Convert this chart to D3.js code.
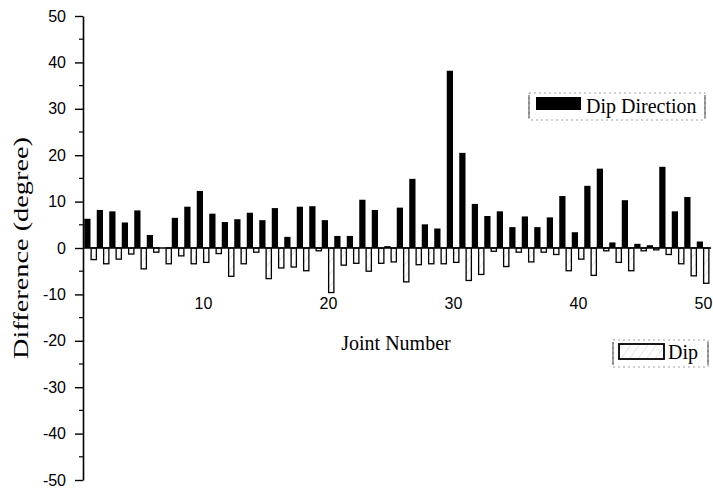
<!DOCTYPE html>
<html>
  <head>
    <meta charset="utf-8">
    <title>Joint difference</title>
    <script src="https://cdn.jsdelivr.net/npm/d3@7"></script>
    <style>
      body { margin: 0; background: #ffffff; }
      .tick text { font-family: "Liberation Sans", Arial, sans-serif; font-size: 16px; fill: #000; }
      .ttl { font-family: "Liberation Serif", "Times New Roman", serif; font-size: 20px; fill: #000; }
    </style>
  </head>
  <body>
    <svg width="713" height="489" id="mainsvg"></svg>
    <script>
        // values, joint 1..50
        const joints = d3.range(1, 51);
        const dipDirection = [6.3, 8.2, 7.9, 5.5, 8.1, 2.8, 0, 6.5, 8.9, 12.3,
            7.4, 5.6, 6.2, 7.6, 6.0, 8.6, 2.4, 8.9, 9.0, 6.0,
            2.6, 2.6, 10.4, 8.2, 0.4, 8.7, 14.9, 5.1, 4.2, 38.2,
            20.5, 9.5, 6.9, 7.9, 4.5, 6.8, 4.5, 6.6, 11.2, 3.4,
            13.4, 17.1, 1.2, 10.3, 0.9, 0.6, 17.5, 7.9, 11.0, 1.4];
        const dip = [-2.5, -3.4, -2.4, -1.3, -4.5, -0.9, -3.4, -1.7, -3.4, -3.1,
            -1.2, -6.1, -3.4, -0.9, -6.6, -4.3, -4.1, -4.9, -0.6, -9.6,
            -3.7, -3.3, -5.0, -3.3, -3.0, -7.3, -3.6, -3.4, -3.4, -3.1,
            -7.0, -5.7, -0.7, -4.0, -0.9, -3.0, -0.9, -1.4, -4.9, -2.4,
            -5.9, -0.6, -3.1, -4.9, -0.6, -0.4, -1.4, -3.4, -6.0, -7.6];
        const xTicks = [10, 20, 30, 40, 50];
        const yTicks = [-50, -40, -30, -20, -10, 0, 10, 20, 30, 40, 50];
        const yMinor = [-45, -35, -25, -15, -5, 5, 15, 25, 35, 45];
        const legendLabels = ['Dip Direction', 'Dip'];

        const svg = d3.select('#mainsvg');

        // faint hatching inside the open bars
        const defs = svg.append('defs');
        const pat = defs.append('pattern')
            .attr('id', 'hatch')
            .attr('patternUnits', 'userSpaceOnUse')
            .attr('width', 7).attr('height', 7)
            .attr('patternTransform', 'rotate(35)');
        pat.append('rect').attr('width', 7).attr('height', 7).attr('fill', '#fff');
        pat.append('line').attr('x1', 0).attr('y1', 0).attr('x2', 0).attr('y2', 7)
            .attr('stroke', '#b5b5b5').attr('stroke-width', 0.7);

        const xScale = d3.scaleLinear().domain([0, 50]).range([78, 703]);
        const yScale = d3.scaleLinear().domain([-50, 50]).range([480, 16]);
        const x0 = xScale(0.4);
        const plainNum = (d) => String(d); // keep ascii hyphen like the original

        // bars
        svg.append('g').selectAll('rect')
            .data(joints)
            .enter().append('rect')
            .attr('x', (d) => xScale(d - 0.5))
            .attr('width', xScale(0.5) - xScale(0))
            .attr('y', (d, i) => yScale(dipDirection[i]))
            .attr('height', (d, i) => yScale(0) - yScale(dipDirection[i]))
            .attr('fill', '#000');

        svg.append('g').selectAll('rect')
            .data(joints)
            .enter().append('rect')
            .attr('x', (d) => xScale(d + 0.05))
            .attr('width', xScale(0.42) - xScale(0))
            .attr('y', yScale(0))
            .attr('height', (d, i) => yScale(dip[i]) - yScale(0))
            .attr('fill', 'url(#hatch)')
            .attr('stroke', '#000')
            .attr('stroke-width', 1.3);

        // zero line
        svg.append('line')
            .attr('x1', x0).attr('x2', xScale(50.65))
            .attr('y1', yScale(0)).attr('y2', yScale(0))
            .attr('stroke', '#000').attr('stroke-width', 1.5);

        // x tick labels hang well below the zero line
        const xAxis = d3.axisBottom(xScale)
            .tickValues(xTicks)
            .tickSize(0)
            .tickPadding(50)
            .tickFormat(plainNum);
        const xg = svg.append('g').attr('transform', `translate(0, ${yScale(0)})`).call(xAxis);
        xg.select('.domain').remove();

        // y axis with minor ticks
        const yAxis = d3.axisLeft(yScale)
            .tickValues(yTicks)
            .tickSize(8)
            .tickSizeOuter(0)
            .tickPadding(9)
            .tickFormat(plainNum);
        const yg = svg.append('g').attr('transform', `translate(${x0}, 0)`).call(yAxis);
        yg.select('.domain').attr('stroke-width', 1.6);
        yg.selectAll('.tick line').attr('stroke-width', 1.4);
        yg.selectAll('.minor')
            .data(yMinor)
            .enter().append('line')
            .attr('class', 'minor')
            .attr('x1', -4).attr('x2', 0)
            .attr('y1', (d) => yScale(d)).attr('y2', (d) => yScale(d))
            .attr('stroke', '#000').attr('stroke-width', 1.2);

        // titles
        svg.append('text').attr('class', 'ttl')
            .attr('transform', `translate(28, ${yScale(0)}) rotate(-90)`)
            .attr('text-anchor', 'middle')
            .style('font-size', '21px')
            .attr('textLength', 222)
            .attr('lengthAdjust', 'spacingAndGlyphs')
            .text('Difference (degree)');
        svg.append('text').attr('class', 'ttl')
            .attr('x', 396).attr('y', 350)
            .attr('text-anchor', 'middle')
            .text('Joint Number');

        // legends
        const legendBox = function(x, y, w, h){
            svg.append('rect')
                .attr('x', x).attr('y', y).attr('width', w).attr('height', h)
                .attr('fill', 'none').attr('stroke', '#888')
                .attr('stroke-width', 0.8).attr('stroke-dasharray', '2,3');
            [x, x + w].forEach(xx => {
                svg.append('line')
                    .attr('x1', xx).attr('x2', xx).attr('y1', y + 2).attr('y2', y + h - 2)
                    .attr('stroke', '#444').attr('stroke-width', 1);
            });
        };

        legendBox(529, 93, 176, 27);
        svg.append('rect').attr('x', 536).attr('y', 97).attr('width', 45).attr('height', 13)
            .attr('fill', '#000');
        svg.append('text').attr('class', 'ttl')
            .attr('x', 586).attr('y', 113)
            .text(legendLabels[0]);

        legendBox(613, 340, 95, 27);
        svg.append('rect').attr('x', 619).attr('y', 344).attr('width', 45).attr('height', 15)
            .attr('fill', 'url(#hatch)').attr('stroke', '#000').attr('stroke-width', 1.8);
        svg.append('text').attr('class', 'ttl')
            .attr('x', 668).attr('y', 359)
            .text(legendLabels[1]);
    </script>
  </body>
</html>
